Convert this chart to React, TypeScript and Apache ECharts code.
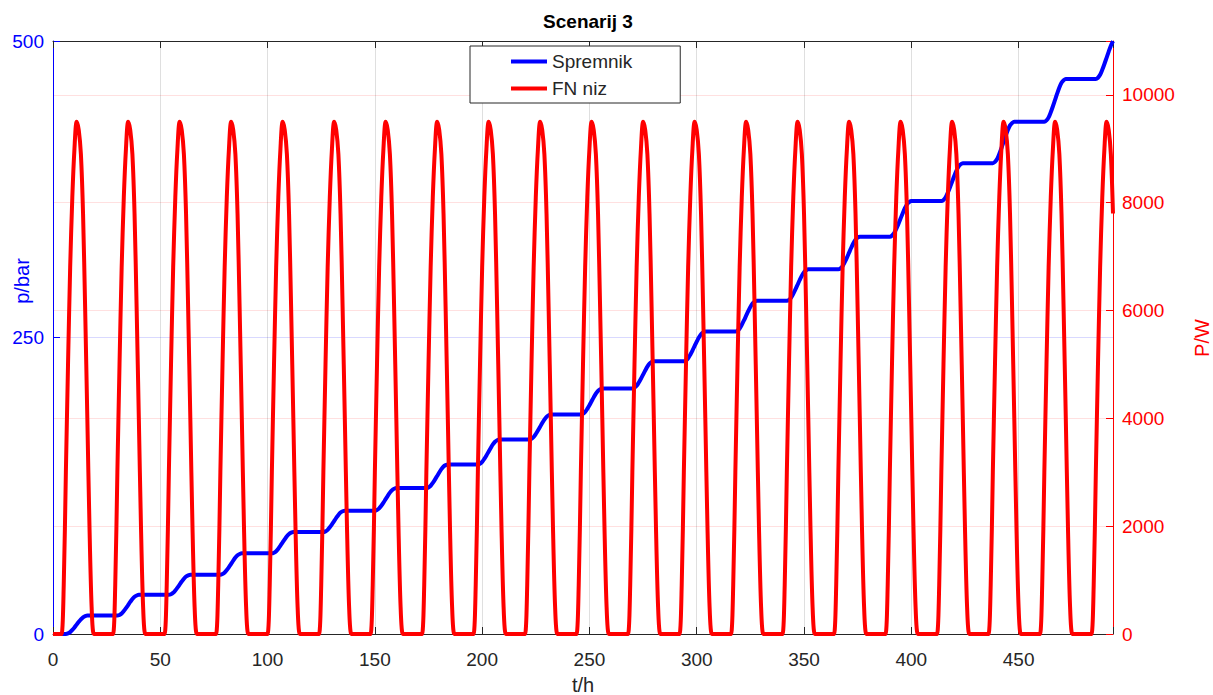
import React, { useEffect, useRef } from "react";
import * as echarts from "echarts";

// Hours covered by the simulation
const X_MAX = 494;
const X_TICK_STEP = 50;

// Tank pressure (bar) reached at the end of each day (day 0 start .. day 21 full level)
const dailyLevels = [
  0, 15.5, 33, 50, 68, 86, 104, 123, 143, 164, 185, 207, 230, 255, 281, 307.5,
  335, 365, 397, 432, 468, 503,
];

// Fraction of the daily pressure increase reached at each hour of the day
const riseFraction = [
  0, 0, 0, 0, 0, 0, 0, 0.03, 0.1, 0.22, 0.36, 0.51, 0.66, 0.8, 0.91, 0.97, 1,
  1, 1, 1, 1, 1, 1, 1,
];

// PV array power (W) at each hour of a day
const pvDayProfile = [
  0, 0, 0, 0, 0, 900, 3000, 5000, 6800, 8100, 9000, 9500, 9350, 8900, 7800,
  6000, 4000, 2000, 500, 0, 0, 0, 0, 0,
];

const seriesNames = ["Spremnik", "FN niz"];

const FONT = "'Liberation Sans', Arial, Helvetica, sans-serif";

function buildData() {
  const tank: [number, number][] = [];
  const pv: [number, number][] = [];
  for (let t = 0; t <= X_MAX; t++) {
    const d = Math.floor(t / 24);
    const h = t % 24;
    const a = dailyLevels[d];
    const b = dailyLevels[d + 1];
    tank.push([t, a + (b - a) * riseFraction[h]]);
    pv.push([t, pvDayProfile[h]]);
  }
  return { tank, pv };
}

export default function App() {
  const ref = useRef<HTMLDivElement>(null);
  useEffect(() => {
    if (!ref.current) return;
    const chart = echarts.init(ref.current, undefined, { renderer: "svg" });
    const { tank, pv } = buildData();
    const gray = "#262626";
    chart.setOption({
      animation: false,
      backgroundColor: "#ffffff",
      textStyle: { fontFamily: FONT },
      title: {
        text: "Scenarij 3",
        left: 583,
        textAlign: "center",
        top: 7,
        textStyle: { fontFamily: FONT, fontSize: 19, fontWeight: "bold", color: "#000" },
      },
      legend: {
        data: seriesNames,
        orient: "vertical",
        left: 470,
        top: 46,
        icon: "rect",
        itemWidth: 36,
        itemHeight: 4,
        itemGap: 8,
        padding: [6, 48, 5, 41],
        borderColor: gray,
        borderWidth: 1,
        backgroundColor: "#fff",
        textStyle: { fontFamily: FONT, fontSize: 19, color: gray },
      },
      grid: { left: 53, right: 100, top: 41, bottom: 61, containLabel: false },
      xAxis: [
        {
          type: "value",
          min: 0,
          max: X_MAX,
          interval: X_TICK_STEP,
          position: "bottom",
          axisLine: { show: true, onZero: false, lineStyle: { color: gray, width: 1 } },
          axisTick: { show: true, inside: true, length: 7, lineStyle: { color: gray } },
          axisLabel: {
            color: gray,
            fontSize: 19,
            fontFamily: FONT,
            margin: 16,
            formatter: (v: number) => (v % X_TICK_STEP === 0 ? String(v) : ""),
          },
          splitLine: { show: true, lineStyle: { color: "rgba(38,38,38,0.15)", width: 1 } },
        },
        {
          type: "value",
          min: 0,
          max: X_MAX,
          interval: X_TICK_STEP,
          position: "top",
          axisLine: { show: true, onZero: false, lineStyle: { color: gray, width: 1 } },
          axisTick: { show: true, inside: true, length: 7, lineStyle: { color: gray } },
          axisLabel: { show: false },
          splitLine: { show: false },
        },
      ],
      yAxis: [
        {
          type: "value",
          min: 0,
          max: 500,
          interval: 250,
          position: "left",
          axisLine: { show: true, onZero: false, lineStyle: { color: "#0000ff", width: 1 } },
          axisTick: { show: true, inside: true, length: 7, lineStyle: { color: "#0000ff" } },
          axisLabel: { color: "#0000ff", fontSize: 19, fontFamily: FONT, margin: 9 },
          splitLine: { show: true, lineStyle: { color: "rgba(0,0,255,0.15)", width: 1 } },
        },
        {
          type: "value",
          min: 0,
          max: 11000,
          interval: 2000,
          position: "right",
          axisLine: { show: true, onZero: false, lineStyle: { color: "#ff0000", width: 1 } },
          axisTick: { show: true, inside: true, length: 7, lineStyle: { color: "#ff0000" } },
          axisLabel: {
            color: "#ff0000",
            fontSize: 19,
            fontFamily: FONT,
            margin: 9,
            formatter: (v: number) => (v % 2000 === 0 ? String(v) : ""),
          },
          splitLine: { show: true, lineStyle: { color: "rgba(255,0,0,0.12)", width: 1 } },
        },
      ],
      graphic: [
        {
          type: "text",
          x: 583,
          y: 685,
          style: {
            text: "t/h",
            fontSize: 20,
            fontFamily: FONT,
            fill: gray,
            textAlign: "center",
            textVerticalAlign: "middle",
          },
        },
        {
          type: "text",
          x: 22,
          y: 281,
          rotation: Math.PI / 2,
          style: {
            text: "p/bar",
            fontSize: 20,
            fontFamily: FONT,
            fill: "#0000ff",
            textAlign: "center",
            textVerticalAlign: "middle",
          },
        },
        {
          type: "text",
          x: 1202,
          y: 338,
          rotation: Math.PI / 2,
          style: {
            text: "P/W",
            fontSize: 20,
            fontFamily: FONT,
            fill: "#ff0000",
            textAlign: "center",
            textVerticalAlign: "middle",
          },
        },
      ],
      series: [
        {
          name: seriesNames[0],
          type: "line",
          xAxisIndex: 0,
          yAxisIndex: 0,
          data: tank,
          showSymbol: false,
          smooth: 0.3,
          color: "#0000ff",
          lineStyle: { color: "#0000ff", width: 4 },
          z: 2,
        },
        {
          name: seriesNames[1],
          type: "line",
          xAxisIndex: 0,
          yAxisIndex: 1,
          data: pv,
          showSymbol: false,
          smooth: 0.3,
          color: "#ff0000",
          lineStyle: { color: "#ff0000", width: 4 },
          z: 3,
        },
      ],
    });
    return () => chart.dispose();
  }, []);
  return (
    <div
      ref={ref}
      style={{ position: "fixed", left: 0, top: 0, width: 1213, height: 695, background: "#fff" }}
    />
  );
}
